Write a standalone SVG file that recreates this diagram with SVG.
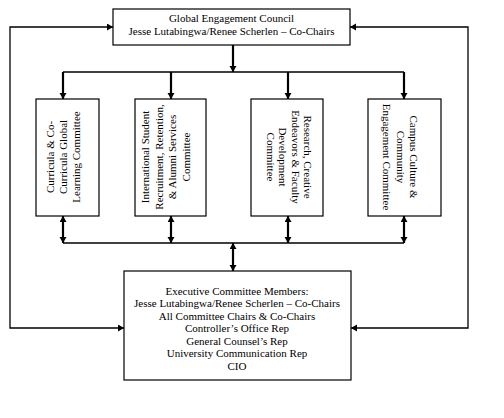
<svg xmlns="http://www.w3.org/2000/svg" width="504" height="418" viewBox="0 0 504 418">
<style>
.box{fill:#fff;stroke:#000;stroke-width:1.2}
.t{font-family:"Liberation Serif","Times New Roman",serif;font-size:11px;fill:#000;text-anchor:middle}
.ln{fill:none;stroke:#000;stroke-width:1.3}
.ar{fill:none;stroke:#000;stroke-width:2.2}
</style>
<defs>
<marker id="ah" markerUnits="userSpaceOnUse" markerWidth="8" markerHeight="8" refX="6" refY="3.5" orient="auto-start-reverse">
<path d="M0,0 L6,3.5 L0,7 Z" fill="#000"/>
</marker>
</defs>
<rect width="504" height="418" fill="#fff"/>
<g id="connectors">
<line class="ar" x1="233" y1="45" x2="233" y2="72" marker-end="url(#ah)"/>
<line class="ln" x1="63" y1="72" x2="404" y2="72"/>
<line class="ar" x1="63" y1="72" x2="63" y2="99" marker-end="url(#ah)"/>
<line class="ar" x1="171" y1="72" x2="171" y2="99" marker-end="url(#ah)"/>
<line class="ar" x1="288" y1="72" x2="288" y2="99" marker-end="url(#ah)"/>
<line class="ar" x1="404" y1="72" x2="404" y2="99" marker-end="url(#ah)"/>
<line class="ar" x1="63" y1="216" x2="63" y2="243" marker-start="url(#ah)" marker-end="url(#ah)"/>
<line class="ar" x1="171" y1="216" x2="171" y2="243" marker-start="url(#ah)" marker-end="url(#ah)"/>
<line class="ar" x1="288" y1="216" x2="288" y2="243" marker-start="url(#ah)" marker-end="url(#ah)"/>
<line class="ar" x1="404" y1="216" x2="404" y2="243" marker-start="url(#ah)" marker-end="url(#ah)"/>
<line class="ln" x1="63" y1="243" x2="404" y2="243"/>
<line class="ar" x1="233" y1="243" x2="233" y2="271" marker-start="url(#ah)" marker-end="url(#ah)"/>
<polyline class="ln" points="113,27 10,27 10,328 124,328" stroke-width="1.6" marker-start="url(#ah)" marker-end="url(#ah)"/>
<polyline class="ln" points="350,27 468,27 468,328 351,328" stroke-width="1.6" marker-start="url(#ah)" marker-end="url(#ah)"/>
</g>
<g id="council">
<rect class="box" x="113" y="9" width="237" height="36"/>
<text class="t" x="231.5" y="22">Global Engagement Council</text>
<text class="t" x="231.5" y="34.5">Jesse Lutabingwa/Renee Scherlen – Co-Chairs</text>
</g>
<g id="curricula">
<rect class="box" x="36" y="99" width="63" height="117"/>
<text class="t" transform="translate(54,157) rotate(-90)">Curricula &amp; Co-</text>
<text class="t" transform="translate(67,157) rotate(-90)">Curricula Global</text>
<text class="t" transform="translate(80,157) rotate(-90)">Learning Committee</text>
</g>
<g id="international">
<rect class="box" x="135" y="99" width="71" height="117"/>
<text class="t" transform="translate(149,157) rotate(-90)">International Student</text>
<text class="t" transform="translate(162.5,157) rotate(-90)">Recruitment, Retention,</text>
<text class="t" transform="translate(176,157) rotate(-90)">&amp; Alumni Services</text>
<text class="t" transform="translate(189.5,157) rotate(-90)">Committee</text>
</g>
<g id="research">
<rect class="box" x="251" y="99" width="72" height="117"/>
<text class="t" transform="translate(304,157) rotate(90)">Research, Creative</text>
<text class="t" transform="translate(291.5,157) rotate(90)">Endeavors &amp; Faculty</text>
<text class="t" transform="translate(279,157) rotate(90)">Development</text>
<text class="t" transform="translate(266.5,157) rotate(90)">Committee</text>
</g>
<g id="campus">
<rect class="box" x="368" y="99" width="73" height="117"/>
<text class="t" transform="translate(410,157) rotate(90)">Campus Culture &amp;</text>
<text class="t" transform="translate(396.5,157) rotate(90)">Community</text>
<text class="t" transform="translate(383,157) rotate(90)">Engagement Committee</text>
</g>
<g id="executive">
<rect class="box" x="124" y="271" width="227" height="109"/>
<text class="t" x="237" y="294.5">Executive Committee Members:</text>
<text class="t" x="237" y="307">Jesse Lutabingwa/Renee Scherlen – Co-Chairs</text>
<text class="t" x="237" y="319.5">All Committee Chairs &amp; Co-Chairs</text>
<text class="t" x="237" y="332">Controller’s Office Rep</text>
<text class="t" x="237" y="344.5">General Counsel’s Rep</text>
<text class="t" x="237" y="357">University Communication Rep</text>
<text class="t" x="237" y="369.5">CIO</text>
</g>
</svg>
